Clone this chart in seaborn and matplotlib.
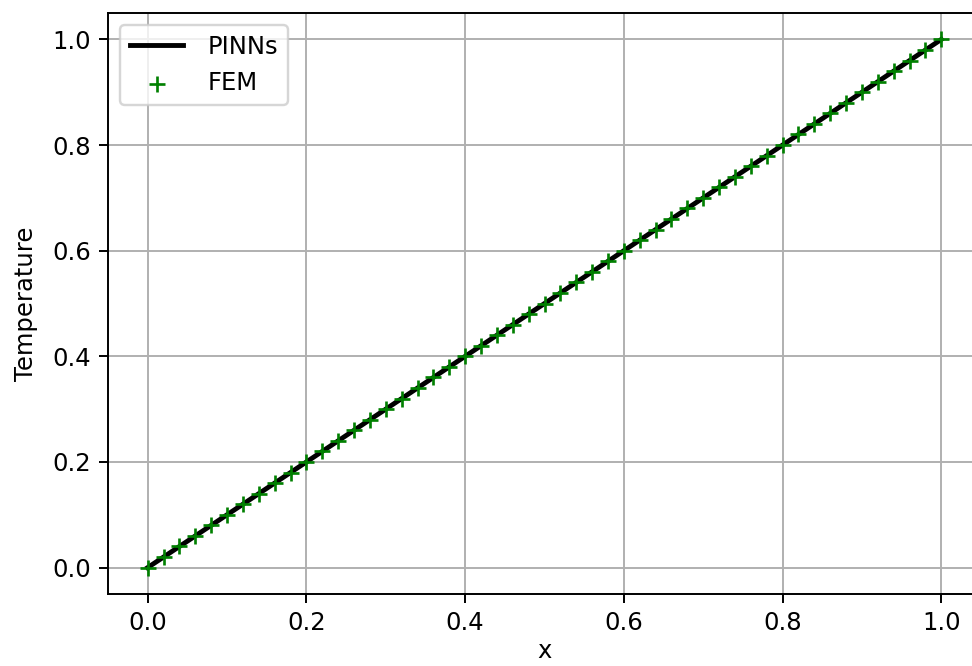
import numpy as np
import pandas as pd
import matplotlib
matplotlib.use("Agg")
import matplotlib.pyplot as plt
import seaborn as sns

# Data
x_pinn = [0.0, 1.0]
t_pinn = [0.0, 1.0]
x_fem = [round(0.02 * i, 2) for i in range(51)]
t_fem = list(x_fem)  # FEM values lie on the linear solution

plt.rcParams.update({
    "font.size": 10,
    "font.family": ["DejaVu Sans"],
})

DPI = 175
W, H = 972, 666
fig = plt.figure(figsize=(W / DPI, H / DPI), dpi=DPI)
left, right_px = 108, 981
bottom_px, top_px = 594, 13
ax = fig.add_axes([left / W, 1 - bottom_px / H, (right_px - left) / W, (bottom_px - top_px) / H])

df_p = pd.DataFrame({"x": x_pinn, "T": t_pinn})
df_f = pd.DataFrame({"x": x_fem, "T": t_fem})

sns.lineplot(data=df_p, x="x", y="T", ax=ax, color="black", linewidth=2.0, label="PINNs")
sns.scatterplot(data=df_f, x="x", y="T", ax=ax, marker="+", color="g", s=40,
                linewidth=1.1, label="FEM", zorder=3)

ax.set_xlim(-0.05, 1.05)
ax.set_ylim(-0.05, 1.05)
ax.set_xticks([0.0, 0.2, 0.4, 0.6, 0.8, 1.0])
ax.set_yticks([0.0, 0.2, 0.4, 0.6, 0.8, 1.0])
ax.grid(True, color="#b0b0b0", linewidth=0.8)
ax.set_axisbelow(True)
ax.set_xlabel("x", labelpad=1.5)
ax.set_ylabel("Temperature", labelpad=6)
ax.legend(loc="upper left", handlelength=2.2, handletextpad=1.0)

fig.savefig("out.png", dpi=DPI)
